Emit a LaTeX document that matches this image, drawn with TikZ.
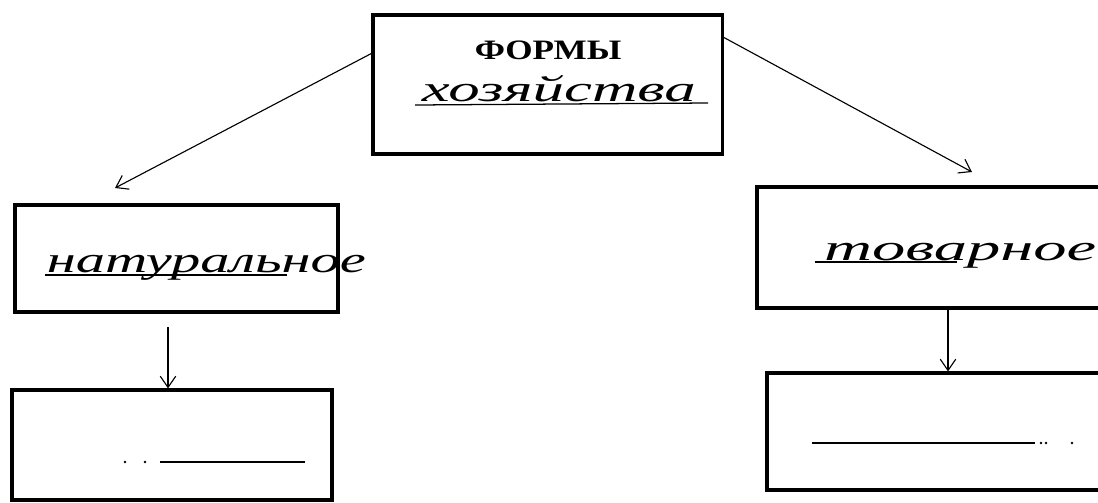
\documentclass[tikz,border=0pt]{standalone}
\usepackage{fontspec}
\setmainfont{Liberation Serif}
\usetikzlibrary{arrows.meta, positioning}

\begin{document}
\begin{tikzpicture}[x=0.025cm, y=-0.025cm, line width=1.6pt,
	every node/.style={inner sep=0pt},
	box/.style={draw, rectangle, line width=2.2pt},
	arr/.style={line width=0.8pt, -{Straight Barb[length=8pt, width=11pt]}},
	hand/.style={font=\itshape\fontsize{26}{26}\selectfont, anchor=base west},
	blank/.style={line width=0.9pt}]
				\clip (0,0) rectangle (1098,502);

				% boxes
				\node[box, minimum width=8.725cm, minimum height=3.475cm] (forms) at (547.5,84.5) {};
				\node[box, minimum width=8.075cm, minimum height=2.675cm] (natural) at (176.5,258.5) {};
				\node[box, minimum width=8cm, minimum height=2.75cm] (naturalsub) at (172,445) {};
				\node[box, minimum width=9cm, minimum height=3.025cm] (goods) at (937,247.5) {};
				\node[box, minimum width=9cm, minimum height=2.925cm] (goodssub) at (947,431.5) {};

				% texts
				\node[font=\bfseries\fontsize{20}{20}\selectfont, xscale=1.25] (formstitle) at (548,50) {ФОРМЫ};
				\node[hand, xscale=1.72] (formshand) at (420,101) {хозяйства};
				\draw[blank] (415,105) -- (708,103);

				\node[hand, xscale=1.6] (naturalhand) at (45,272) {натуральное};
				\draw[blank] (45,275) -- (287,275);

				\node[hand, xscale=1.82] (goodshand) at (822,260) {товарное};
				\draw[blank] (815,262) -- (957,262);

				% empty lines
				\fill (125,462) circle (1.3);
				\fill (145,462) circle (1.3);
				\draw[blank] (160,462) -- (305,462);

				\draw[blank] (812,443) -- (1035,443);
				\fill (1041,443) circle (1.3);
				\fill (1046,443) circle (1.3);
				\fill (1072,443) circle (1.3);

				% arrows
				\coordinate (naturalend) at (115,188);
				\coordinate (goodsend) at (972,172);
				\coordinate (naturaldown) at (168,327);
				\coordinate (goodsdown) at (948,0);

				\draw[arr] (forms.170) -- (naturalend);
				\draw[arr] (forms.15) -- (goodsend);
				\draw[arr] (naturaldown) -- (naturaldown |- naturalsub.north);
				\draw[arr] (goods.south -| goodsdown) -- (goodssub.north -| goodsdown);
\end{tikzpicture}
\end{document}
